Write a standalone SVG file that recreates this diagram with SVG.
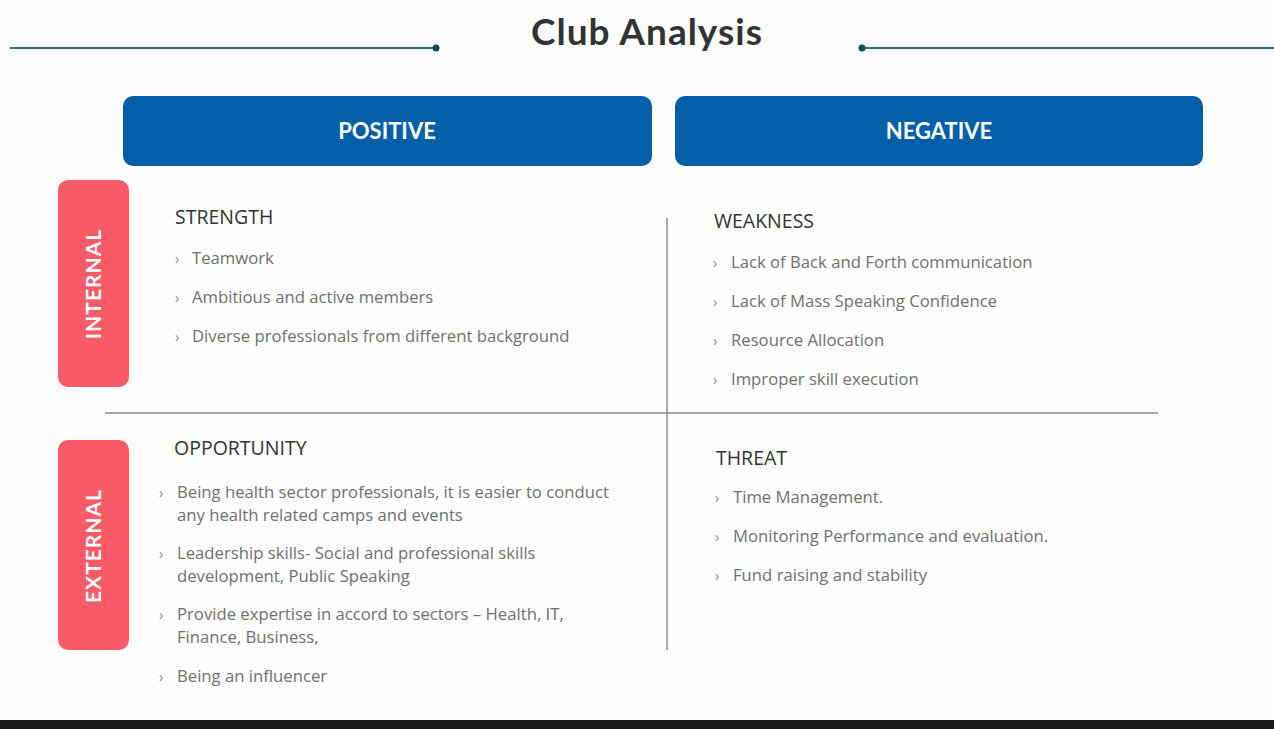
<svg xmlns="http://www.w3.org/2000/svg" width="1274" height="729" viewBox="0 0 1274 729">
<style>
.title{font-family:Lato,"Liberation Sans",sans-serif;font-weight:700;font-size:37px;letter-spacing:1px;fill:#333}
.hdr{font-family:Lato,"Liberation Sans",sans-serif;font-weight:700;font-size:22px;fill:#fff;text-anchor:middle}
.side{font-family:Lato,"Liberation Sans",sans-serif;font-weight:700;font-size:21px;fill:#fff;text-anchor:middle;letter-spacing:1px}
.head{font-family:"Open Sans","Liberation Sans",sans-serif;font-size:19.5px;fill:#333}
.item{font-family:"Open Sans","Liberation Sans",sans-serif;font-size:16.7px;fill:#707070}
.bul{font-family:"Open Sans","Liberation Sans",sans-serif;font-size:14px;fill:#888}
.rule{stroke:#2f6e7b;stroke-width:2}
.div{stroke:#8a8a8a;stroke-width:1.5}
</style>
<rect width="1274" height="729" fill="#fdfdfd"/>
<g id="title">
<text class="title" x="647" y="45" text-anchor="middle">Club Analysis</text>
<line class="rule" x1="10" y1="48" x2="436" y2="48"/>
<circle cx="436" cy="48" r="3.5" fill="#0b4f5c"/>
<line class="rule" x1="862" y1="48" x2="1274" y2="48"/>
<circle cx="862" cy="48" r="3.5" fill="#0b4f5c"/>
</g>
<g id="positive">
<rect x="123" y="96" width="529" height="70" rx="10" fill="#0360a8"/>
<text class="hdr" x="387" y="139">POSITIVE</text>
</g>
<g id="negative">
<rect x="675" y="96" width="528" height="70" rx="10" fill="#0360a8"/>
<text class="hdr" x="939" y="139">NEGATIVE</text>
</g>
<g id="internal">
<rect x="58" y="180" width="71" height="207" rx="10" fill="#f95a68"/>
<text class="side" transform="translate(101,284) rotate(-90)">INTERNAL</text>
</g>
<g id="external">
<rect x="58" y="440" width="71" height="210" rx="10" fill="#f95a68"/>
<text class="side" transform="translate(101,546) rotate(-90)">EXTERNAL</text>
</g>
<g id="connectors">
<line class="div" x1="667" y1="218" x2="667" y2="650"/>
<line class="div" x1="105" y1="413" x2="1158" y2="413"/>
</g>
<g id="strength">
<text class="head" x="175" y="224">STRENGTH</text>
<text class="bul" x="175" y="264">›</text><text class="item" x="192" y="264">Teamwork</text>
<text class="bul" x="175" y="303">›</text><text class="item" x="192" y="303">Ambitious and active members</text>
<text class="bul" x="175" y="342">›</text><text class="item" x="192" y="342">Diverse professionals from different background</text>
</g>
<g id="weakness">
<text class="head" x="714" y="228">WEAKNESS</text>
<text class="bul" x="713" y="268">›</text><text class="item" x="731" y="268">Lack of Back and Forth communication</text>
<text class="bul" x="713" y="307">›</text><text class="item" x="731" y="307">Lack of Mass Speaking Confidence</text>
<text class="bul" x="713" y="346">›</text><text class="item" x="731" y="346">Resource Allocation</text>
<text class="bul" x="713" y="385">›</text><text class="item" x="731" y="385">Improper skill execution</text>
</g>
<g id="opportunity">
<text class="head" x="174" y="455">OPPORTUNITY</text>
<text class="bul" x="159" y="498">›</text><text class="item" x="177" y="498">Being health sector professionals, it is easier to conduct</text>
<text class="item" x="177" y="521">any health related camps and events</text>
<text class="bul" x="159" y="559">›</text><text class="item" x="177" y="559">Leadership skills- Social and professional skills</text>
<text class="item" x="177" y="582">development, Public Speaking</text>
<text class="bul" x="159" y="620">›</text><text class="item" x="177" y="620">Provide expertise in accord to sectors – Health, IT,</text>
<text class="item" x="177" y="643">Finance, Business,</text>
<text class="bul" x="159" y="682">›</text><text class="item" x="177" y="682">Being an influencer</text>
</g>
<g id="threat">
<text class="head" x="716" y="465">THREAT</text>
<text class="bul" x="715" y="503">›</text><text class="item" x="733" y="503">Time Management.</text>
<text class="bul" x="715" y="542">›</text><text class="item" x="733" y="542">Monitoring Performance and evaluation.</text>
<text class="bul" x="715" y="581">›</text><text class="item" x="733" y="581">Fund raising and stability</text>
</g>
<rect x="0" y="720" width="1274" height="9" fill="#1a1a1a"/>
</svg>
